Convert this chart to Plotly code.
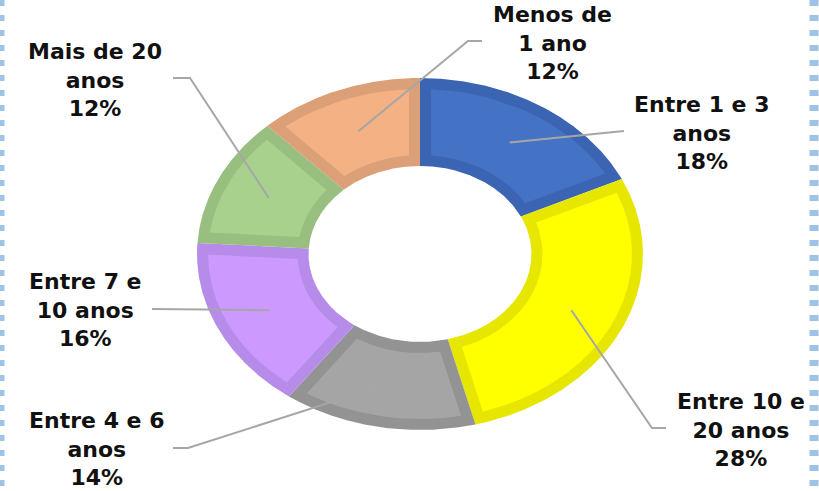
import numpy as np
import plotly.graph_objects as go

# ---- data ----
categories = ["Entre 1 e 3 anos", "Entre 10 e 20 anos", "Entre 4 e 6 anos",
              "Entre 7 e 10 anos", "Mais de 20 anos", "Menos de 1 ano"]
label_lines = [["Entre 1 e 3", "anos"], ["Entre 10 e", "20 anos"], ["Entre 4 e 6", "anos"],
               ["Entre 7 e", "10 anos"], ["Mais de 20", "anos"], ["Menos de", "1 ano"]]
values = [18, 28, 14, 16, 12, 12]

# ---- styles ----
fill_colors = ["#4472C4", "#FFFF00", "#A5A5A5", "#CC99FF", "#A9D18E", "#F4B183"]
edge_colors = ["#3B65B2", "#E6E600", "#939393", "#B78BE9", "#98BF7F", "#DCA079"]

W, H = 819, 491
cx, cy = 420, 254
rx, ry = 223, 176
hole = 0.5
band = 11

# label anchor (center of middle line) and leader geometry
label_pos = [(702, 133), (741, 430), (97, 449), (85, 310), (95, 80), (552, 43)]
leader_elbow = [(612, 132), (652, 428), (188, 448), (152, 309), (190, 78), (468, 41)]
leader_end = [(624, 131), (666, 428), (173, 448), (152, 309), (173, 78), (482, 41)]


def pt(theta, sx, sy):
    return cx + sx * np.sin(theta), cy - sy * np.cos(theta)


def edge_normal(a, toward):
    ux, uy = np.sin(a) * rx, -np.cos(a) * ry
    n = np.hypot(ux, uy)
    ux, uy = ux / n, uy / n
    nx, ny = -uy, ux
    tx, ty = pt(toward, rx, ry)
    if (tx - cx) * nx + (ty - cy) * ny < 0:
        nx, ny = -nx, -ny
    return nx, ny


fig = go.Figure()
total = float(sum(values))
start = 0.0
mids = []
for i, v in enumerate(values):
    a0 = start / total * 2 * np.pi
    a1 = (start + v) / total * 2 * np.pi
    start += v
    mids.append((a0 + a1) / 2)
    t = np.linspace(a0, a1, 400)
    ox, oy = pt(t, rx, ry)
    ix, iy = pt(t[::-1], rx * hole, ry * hole)
    fig.add_trace(go.Scatter(x=np.r_[ox, ix, ox[0]], y=np.r_[oy, iy, oy[0]], mode="lines",
                             fill="toself", fillcolor=edge_colors[i], line=dict(width=0),
                             hoverinfo="skip", showlegend=False))
    # inset light area
    n0 = edge_normal(a0, a0 + 0.02)
    n1 = edge_normal(a1, a1 - 0.02)
    tt = np.linspace(a0, a1, 3000)

    def keep(xs, ys):
        d0 = (xs - cx) * n0[0] + (ys - cy) * n0[1]
        d1 = (xs - cx) * n1[0] + (ys - cy) * n1[1]
        m = (d0 >= band) & (d1 >= band)
        return xs[m], ys[m]

    oxs, oys = keep(*pt(tt, rx - band, ry - band))
    ixs, iys = keep(*pt(tt, rx * hole + band, ry * hole + band))
    px = np.r_[oxs, ixs[::-1], oxs[0]]
    py = np.r_[oys, iys[::-1], oys[0]]
    fig.add_trace(go.Scatter(x=px, y=py, mode="lines", fill="toself",
                             fillcolor=fill_colors[i], line=dict(width=0),
                             hoverinfo="skip", showlegend=False))

# leader lines
for i, v in enumerate(values):
    sx, sy = pt(mids[i], rx * 0.75, ry * 0.75)
    ex, ey = leader_elbow[i]
    fx, fy = leader_end[i]
    fig.add_trace(go.Scatter(x=[sx, ex, fx], y=[sy, ey, fy], mode="lines",
                             line=dict(color="#A6A6A6", width=2),
                             hoverinfo="skip", showlegend=False))

# labels
for i, v in enumerate(values):
    lx, ly = label_pos[i]
    txt = "<br>".join(label_lines[i] + [f"{v / total * 100:.0f}%"])
    fig.add_annotation(x=lx, y=ly, xref="x", yref="y", text=txt, showarrow=False,
                       xanchor="center", yanchor="middle", align="center",
                       font=dict(family="DejaVu Sans", size=22, color="#111111"))
    fig.layout.annotations[-1].text = "<b>" + txt.replace("<br>", "</b><br><b>") + "</b>"

# dotted side borders
fig.add_shape(type="line", xref="x", yref="y", x0=2, x1=2, y0=0, y1=H,
              line=dict(color="#9DC3E6", width=5, dash="6px,9px"))
fig.add_shape(type="line", xref="x", yref="y", x0=814, x1=814, y0=0, y1=H,
              line=dict(color="#9DC3E6", width=9, dash="6px,9px"))

fig.update_xaxes(range=[0, W], visible=False, fixedrange=True)
fig.update_yaxes(range=[H, 0], visible=False, fixedrange=True)
fig.update_layout(width=W, height=H, margin=dict(l=0, r=0, t=0, b=0),
                  paper_bgcolor="white", plot_bgcolor="white", showlegend=False)

fig.write_html("out.html")
